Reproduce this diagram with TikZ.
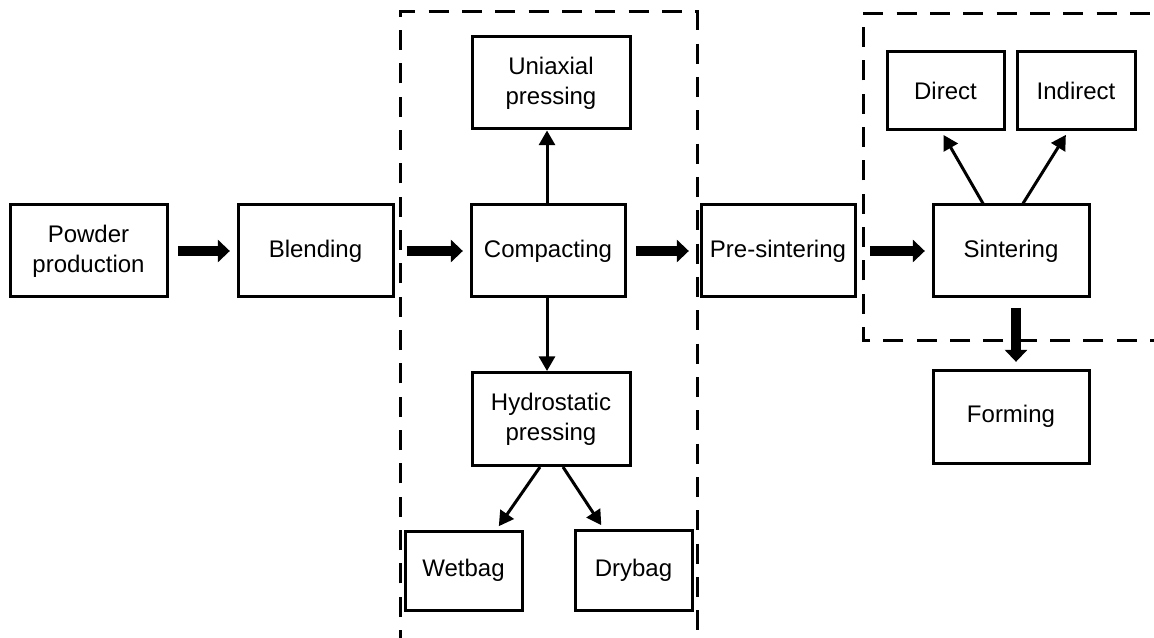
\documentclass[tikz,border=0pt]{standalone}
\usepackage{fontspec}
\setmainfont{Liberation Sans}
\usetikzlibrary{arrows.meta,calc}
\begin{document}
\begin{tikzpicture}[x=0.75pt,y=-0.75pt,
  box/.style={draw,line width=2.25pt,align=center,inner sep=0pt,
    font=\fontsize{18pt}{22.5pt}\selectfont},
  bigarrow/.style={line width=7.5pt,-{Triangle[width=16.5pt,length=9pt]},
    shorten <=7pt, shorten >=5pt},
  thinarrow/.style={line width=2.25pt,-{Triangle[width=12pt,length=11pt]}},
  groupline/.style={line width=2.25pt,dash pattern=on 15pt off 10pt}]
\useasboundingbox (0,0) rectangle (1154,638);
\begin{scope}
\clip (0,0) rectangle (1154,638);
\draw[groupline] (400,650) -- (400,12) -- (697,12) -- (697,650);
\draw[groupline] (1170,340) -- (863,340) -- (863,14) -- (1170,14);
\end{scope}
\node[box,minimum width=117.75pt,minimum height=69pt] (pow) at (88.5,251) {Powder\\production};
\node[box,minimum width=116.25pt,minimum height=69pt] (blend) at (315.5,251) {Blending};
\node[box,minimum width=115.5pt,minimum height=69pt] (comp) at (548,251) {Compacting};
\node[box,minimum width=118.5pt,minimum height=69pt] (uni) at (551,83) {Uniaxial\\pressing};
\node[box,minimum width=118.5pt,minimum height=69.75pt] (hyd) at (551,419) {Hydrostatic\\pressing};
\node[box,minimum width=87.75pt,minimum height=59.25pt] (wet) at (463.5,570.5) {Wetbag};
\node[box,minimum width=87.75pt,minimum height=60pt] (dry) at (633.5,570) {Drybag};
\node[box,minimum width=115.5pt,minimum height=69pt] (pre) at (778,251) {Pre-sintering};
\node[box,minimum width=117pt,minimum height=69pt] (sint) at (1011,251) {Sintering};
\node[box,minimum width=87.75pt,minimum height=58.5pt] (dir) at (945.5,91) {Direct};
\node[box,minimum width=88.5pt,minimum height=58.5pt] (ind) at (1076,91) {Indirect};
\node[box,minimum width=117pt,minimum height=69.75pt] (form) at (1011,416.5) {Forming};
\draw[bigarrow] (pow) -- (blend);
\draw[bigarrow,shorten <=9pt] (blend) -- (comp);
\draw[bigarrow,shorten >=8pt] (comp) -- (pre);
\draw[bigarrow,shorten <=10pt] (pre) -- (sint);
\draw[bigarrow] ($(sint.south)+(5,0)$) -- ($(form.north)+(5,0)$);
\draw[thinarrow] ($(comp.north)+(-1,0)$) -- ($(comp.north |- uni.south)+(-1,0)$);
\draw[thinarrow] ($(comp.south)+(-1,0)$) -- ($(comp.south |- hyd.north)+(-1,0)$);
\draw[thinarrow,shorten >=3pt] ($(hyd.south)+(-11,0)$) -- ($(wet.north)+(33,0)$);
\draw[thinarrow,shorten >=3pt] ($(hyd.south)+(12,0)$) -- ($(dry.north)+(-30,0)$);
\draw[thinarrow,shorten >=3pt] ($(sint.north)+(-28,0)$) -- ($(dir.south)+(-4,0)$);
\draw[thinarrow,shorten >=3pt] ($(sint.north)+(12,0)$) -- ($(ind.south)+(-8,0)$);
\end{tikzpicture}
\end{document}
